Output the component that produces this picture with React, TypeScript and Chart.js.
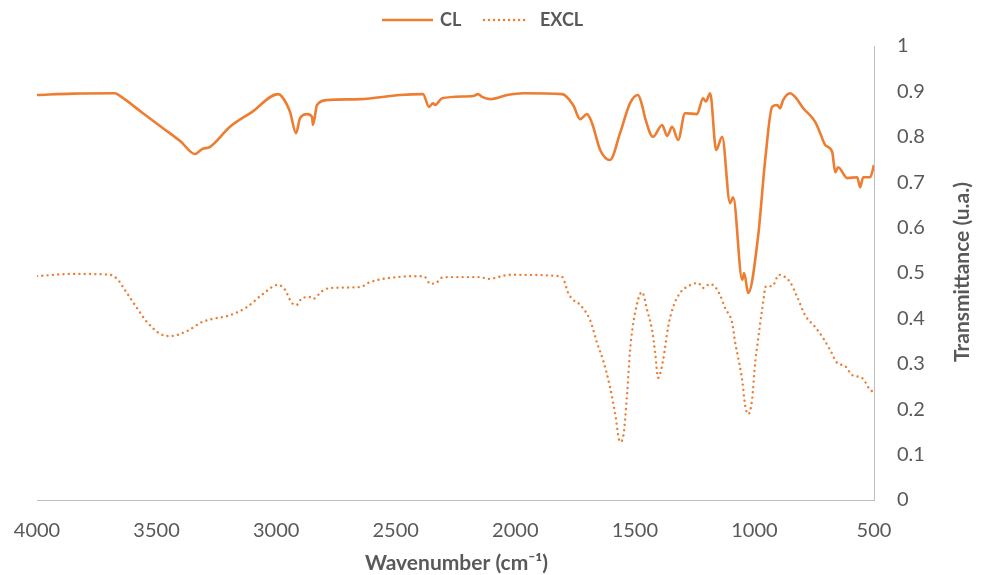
import React, { useEffect, useRef } from "react";
import { Chart, registerables } from "chart.js";

Chart.register(...registerables);

// CL spectrum (solid)
const clWavenumber = [
  4000, 3850, 3674, 3653, 3557, 3473, 3400, 3339, 3310, 3276, 3193, 3100, 2992, 2975, 2942, 2917, 2900,
  2871, 2850, 2846, 2829, 2787, 2649, 2482, 2386, 2361, 2344, 2335, 2306, 2176, 2156, 2139, 2105, 2034,
  1967, 1804, 1758, 1729, 1700, 1679, 1645, 1604, 1562, 1520, 1487, 1470, 1457, 1424, 1386, 1365, 1344,
  1319, 1290, 1240, 1215, 1203, 1185, 1160, 1135, 1102, 1089, 1051, 1043, 1026, 985, 955, 926, 905, 893,
  880, 851, 830, 796, 746, 725, 704, 675, 662, 650, 612, 570, 558, 545, 516, 500,
];
const clTransmittance = [
  0.892, 0.895, 0.896, 0.89, 0.852, 0.819, 0.79, 0.762, 0.773, 0.778, 0.822, 0.855, 0.894, 0.888, 0.855,
  0.808, 0.841, 0.85, 0.844, 0.826, 0.87, 0.881, 0.883, 0.892, 0.894, 0.866, 0.874, 0.87, 0.885, 0.89,
  0.894, 0.888, 0.883, 0.892, 0.896, 0.894, 0.87, 0.839, 0.85, 0.83, 0.771, 0.749, 0.808, 0.874, 0.892,
  0.87, 0.841, 0.8, 0.826, 0.802, 0.822, 0.793, 0.852, 0.85, 0.885, 0.878, 0.896, 0.771, 0.8, 0.654,
  0.667, 0.485, 0.5, 0.456, 0.579, 0.749, 0.866, 0.87, 0.863, 0.881, 0.896, 0.888, 0.863, 0.833, 0.808,
  0.782, 0.767, 0.722, 0.733, 0.709, 0.711, 0.689, 0.711, 0.711, 0.738,
];

// EXCL spectrum (dotted)
const exclWavenumber = [
  4000, 3849, 3695, 3665, 3624, 3582, 3540, 3473, 3444, 3373, 3310, 3264, 3193, 3122, 3055, 2992, 2963,
  2934, 2913, 2892, 2858, 2846, 2808, 2775, 2649, 2607, 2494, 2398, 2377, 2356, 2327, 2302, 2147, 2114,
  2022, 1813, 1800, 1779, 1762, 1729, 1687, 1658, 1633, 1604, 1583, 1562, 1549, 1532, 1520, 1499, 1470,
  1449, 1428, 1415, 1403, 1382, 1361, 1340, 1311, 1277, 1235, 1215, 1185, 1164, 1144, 1123, 1093, 1081,
  1068, 1051, 1039, 1026, 1010, 997, 985, 968, 951, 926, 897, 872, 851, 821, 788, 746, 713, 683, 654,
  621, 591, 550, 508, 500,
];
const exclTransmittance = [
  0.493, 0.498, 0.496, 0.487, 0.456, 0.423, 0.392, 0.363, 0.361, 0.372, 0.392, 0.399, 0.407, 0.425,
  0.454, 0.474, 0.463, 0.434, 0.43, 0.445, 0.447, 0.443, 0.46, 0.467, 0.469, 0.48, 0.491, 0.493, 0.491,
  0.476, 0.48, 0.491, 0.491, 0.487, 0.496, 0.493, 0.489, 0.456, 0.443, 0.43, 0.396, 0.346, 0.308, 0.249,
  0.192, 0.128, 0.139, 0.236, 0.33, 0.412, 0.458, 0.419, 0.374, 0.324, 0.269, 0.308, 0.381, 0.425, 0.456,
  0.471, 0.478, 0.467, 0.476, 0.469, 0.452, 0.423, 0.39, 0.348, 0.313, 0.264, 0.209, 0.189, 0.22, 0.302,
  0.352, 0.419, 0.471, 0.471, 0.496, 0.491, 0.48, 0.447, 0.407, 0.381, 0.357, 0.33, 0.302, 0.295, 0.275,
  0.269, 0.24, 0.242,
];

const seriesNames = ["CL", "EXCL"];
const xTitle = "Wavenumber (cm\u207B\u00B9)";
const yTitle = "Transmittance (u.a.)";

const ORANGE = "#ED7D31";
const TEXT = "#595959";
const FONT = "Lato, 'Open Sans', sans-serif";

const decorPlugin = {
  id: "decor",
  afterDraw(chart: any) {
    const { ctx, chartArea } = chart;
    ctx.save();
    // Legend
    const ly = 20;
    ctx.strokeStyle = ORANGE;
    ctx.lineWidth = 2.5;
    ctx.setLineDash([]);
    ctx.lineCap = "butt";
    ctx.beginPath();
    ctx.moveTo(382, ly);
    ctx.lineTo(433, ly);
    ctx.stroke();
    ctx.fillStyle = TEXT;
    ctx.font = `bold 18px ${FONT}`;
    ctx.textBaseline = "middle";
    ctx.textAlign = "left";
    ctx.fillText(seriesNames[0], 440, ly);
    ctx.lineCap = "round";
    ctx.setLineDash([0.01, 5]);
    ctx.beginPath();
    ctx.moveTo(484, ly);
    ctx.lineTo(527, ly);
    ctx.stroke();
    ctx.setLineDash([]);
    ctx.fillText(seriesNames[1], 540, ly);

    // X title
    ctx.font = `bold 21px ${FONT}`;
    ctx.textAlign = "center";
    ctx.fillText(xTitle, (chartArea.left + chartArea.right) / 2 + 1, 563);

    // Y title (reads bottom to top)
    ctx.translate(962, 272);
    ctx.rotate(-Math.PI / 2);
    ctx.fillText(yTitle, 0, 0);
    ctx.restore();
  },
};

export default function App() {
  const canvasRef = useRef<HTMLCanvasElement | null>(null);

  useEffect(() => {
    const canvas = canvasRef.current;
    if (!canvas) return;
    const clData = clWavenumber.map((x, i) => ({ x, y: clTransmittance[i] }));
    const exclData = exclWavenumber.map((x, i) => ({ x, y: exclTransmittance[i] }));
    const chart = new Chart(canvas, {
      type: "line",
      data: {
        datasets: [
          {
            label: seriesNames[0],
            data: clData,
            borderColor: ORANGE,
            backgroundColor: ORANGE,
            borderWidth: 2.6,
            pointRadius: 0,
            cubicInterpolationMode: "monotone",
            borderJoinStyle: "round",
          },
          {
            label: seriesNames[1],
            data: exclData,
            borderColor: ORANGE,
            backgroundColor: ORANGE,
            borderWidth: 2.4,
            borderDash: [0.01, 5.3],
            borderCapStyle: "round",
            pointRadius: 0,
            cubicInterpolationMode: "monotone",
          },
        ],
      },
      options: {
        animation: false,
        responsive: false,
        layout: { padding: { left: 37, top: 46, right: 0, bottom: 0 } },
        plugins: {
          legend: { display: false },
          tooltip: { enabled: false },
        },
        scales: {
          x: {
            type: "linear",
            min: 500,
            max: 4000,
            reverse: true,
            grid: { display: false, drawTicks: false },
            border: { display: true, color: "#BFBFBF", width: 1 },
            ticks: {
              stepSize: 500,
              autoSkip: false,
              maxRotation: 0,
              padding: 19,
              color: TEXT,
              font: { family: FONT, size: 20 },
              callback: (v: any) => String(v),
            },
            afterFit: (scale: any) => {
              scale.height = 75;
              scale.paddingLeft = 0;
              scale.paddingRight = 0;
            },
          },
          y: {
            type: "linear",
            position: "right",
            min: 0,
            max: 1,
            grid: { display: false, drawTicks: false },
            border: { display: true, color: "#BFBFBF", width: 1 },
            ticks: {
              stepSize: 0.1,
              padding: 23,
              color: TEXT,
              font: { family: FONT, size: 20 },
              callback: (v: any) => String(Math.round(Number(v) * 10) / 10),
            },
            afterFit: (scale: any) => {
              scale.width = 109;
              scale.paddingTop = 0;
              scale.paddingBottom = 0;
            },
          },
        },
      },
      plugins: [decorPlugin],
    });
    return () => chart.destroy();
  }, []);

  return (
    <div style={{ position: "absolute", left: 0, top: 0, width: 983, height: 575, background: "#fff" }}>
      <canvas ref={canvasRef} width={983} height={575} style={{ display: "block" }} />
    </div>
  );
}
